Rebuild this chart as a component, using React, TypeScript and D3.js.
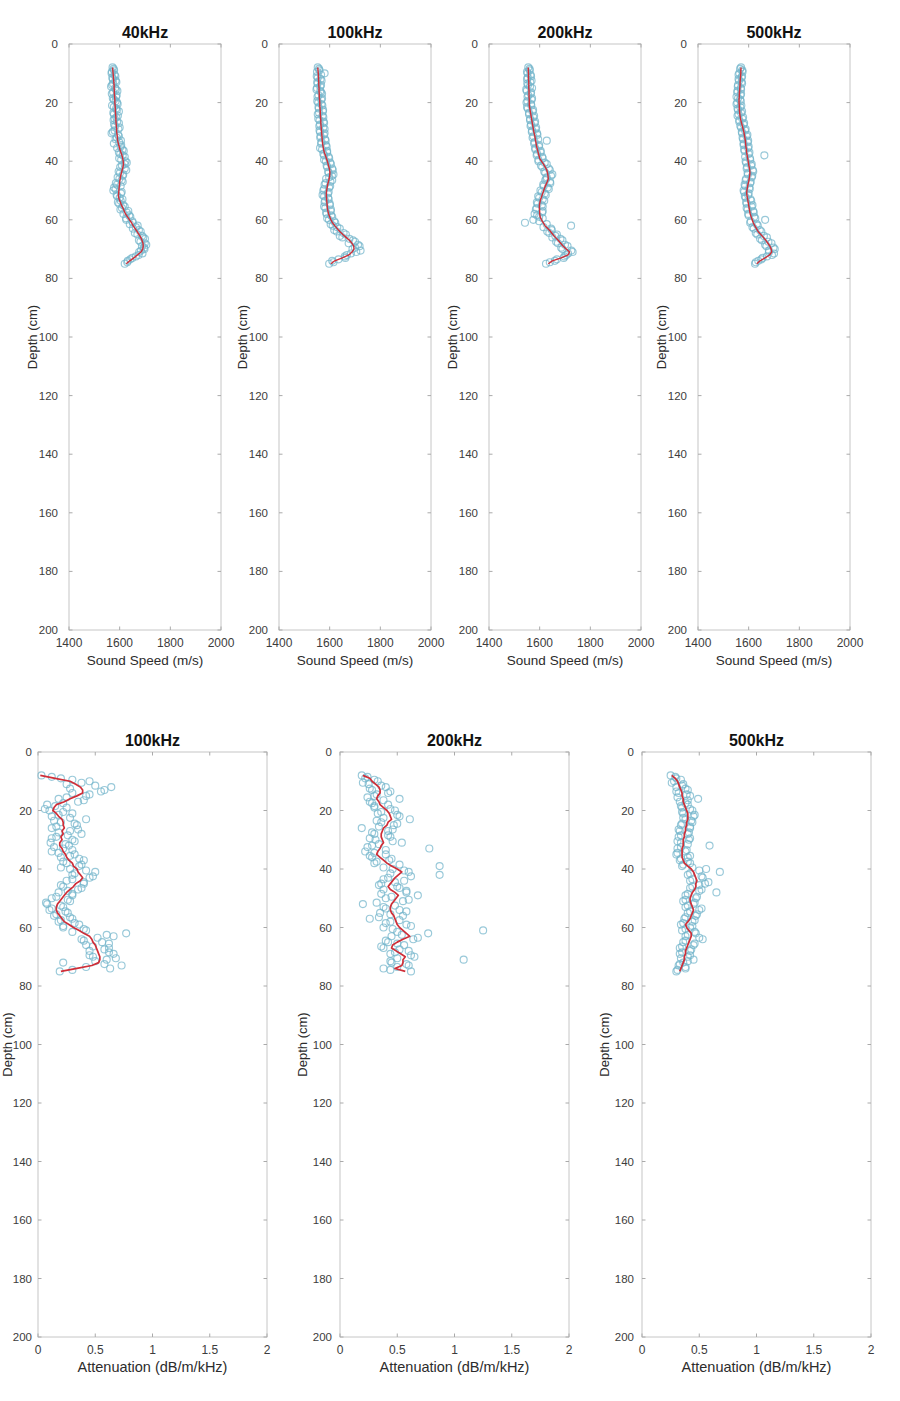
import React from 'react';
import * as d3 from 'd3';

// ---------- data ----------
const DEPTHS = [
  8, 9, 10, 11, 12, 13, 14, 15, 16, 17,
  18, 19, 20, 21, 22, 23, 24, 25, 26, 27,
  28, 29, 30, 31, 32, 33, 34, 35, 36, 37,
  38, 39, 40, 41, 42, 43, 44, 45, 46, 47,
  48, 49, 50, 51, 52, 53, 54, 55, 56, 57,
  58, 59, 60, 61, 62, 63, 64, 65, 66, 67,
  68, 69, 70, 71, 72, 73, 74, 75,
];
const DEPTHS_HALF = [
  8.5, 9.5, 10.5, 11.5, 12.5, 13.5, 14.5, 15.5, 16.5, 17.5,
  18.5, 19.5, 20.5, 21.5, 22.5, 23.5, 24.5, 25.5, 26.5, 27.5,
  28.5, 29.5, 30.5, 31.5, 32.5, 33.5, 34.5, 35.5, 36.5, 37.5,
  38.5, 39.5, 40.5, 41.5, 42.5, 43.5, 44.5, 45.5, 46.5, 47.5,
  48.5, 49.5, 50.5, 51.5, 52.5, 53.5, 54.5, 55.5, 56.5, 57.5,
  58.5, 59.5, 60.5, 61.5, 62.5, 63.5, 64.5, 65.5, 66.5, 67.5,
  68.5, 69.5, 70.5, 71.5, 72.5, 73.5, 74.5,
];

const DEPTH_TICKS = [0, 20, 40, 60, 80, 100, 120, 140, 160, 180, 200];
const SPEED_TICKS = [1400, 1600, 1800, 2000];
const ATTEN_TICKS = [0, 0.5, 1, 1.5, 2];
const TOP_TITLES = ['40kHz', '100kHz', '200kHz', '500kHz'];
const BOTTOM_TITLES = ['100kHz', '200kHz', '500kHz'];

// ----- sound speed (m/s) -----
const SPEED_40_PTS = [
  1572, 1578, 1568, 1583, 1573, 1587, 1570, 1582, 1591, 1569,
  1586, 1577, 1590, 1570, 1586, 1597, 1577, 1587, 1576, 1597,
  1582, 1595, 1573, 1594, 1589, 1605, 1577, 1604, 1611, 1597,
  1612, 1598, 1623, 1620, 1602, 1626, 1601, 1612, 1599, 1612,
  1590, 1578, 1575, 1605, 1590, 1611, 1593, 1614, 1609, 1634,
  1615, 1642, 1626, 1652, 1671, 1652, 1683, 1670, 1693, 1676,
  1699, 1688, 1698, 1677, 1675, 1650, 1632, 1620,
];
const SPEED_40_PTS_B = [
  1576, 1569, 1580, 1571, 1584, 1574, 1566, 1585, 1574, 1588,
  1573, 1584, 1592, 1577, 1589, 1575, 1593, 1580, 1590, 1578,
  1600, 1580, 1568, 1597, 1584, 1598, 1606, 1590, 1616, 1602,
  1620, 1606, 1628, 1609, 1620, 1596, 1614, 1592, 1608, 1585,
  1604, 1584, 1608, 1588, 1600, 1604, 1598, 1620, 1603, 1628,
  1638, 1625, 1650, 1640, 1664, 1676, 1660, 1688, 1700, 1682,
  1705, 1696, 1684, 1690, 1664, 1642, 1630,
];
const SPEED_40_FIT = [
  1572, 1573, 1574, 1575, 1576, 1577, 1578, 1578, 1579, 1579,
  1580, 1581, 1581, 1582, 1583, 1583, 1584, 1585, 1585, 1586,
  1587, 1588, 1588, 1590, 1591, 1592, 1595, 1598, 1601, 1605,
  1609, 1612, 1614, 1615, 1613, 1610, 1607, 1604, 1602, 1600,
  1599, 1598, 1597, 1596, 1595, 1598, 1603, 1607, 1613, 1618,
  1623, 1631, 1639, 1647, 1653, 1661, 1669, 1676, 1683, 1688,
  1692, 1693, 1691, 1684, 1670, 1656, 1640, 1626,
];

const SPEED_100_PTS = [
  1553, 1560, 1580, 1549, 1564, 1551, 1566, 1550, 1563, 1570,
  1552, 1567, 1555, 1571, 1557, 1573, 1553, 1575, 1560, 1578,
  1559, 1580, 1562, 1577, 1563, 1584, 1566, 1588, 1570, 1590,
  1578, 1598, 1585, 1605, 1590, 1612, 1596, 1609, 1586, 1603,
  1580, 1598, 1575, 1593, 1578, 1596, 1580, 1601, 1583, 1604,
  1588, 1610, 1597, 1622, 1612, 1640, 1628, 1664, 1650, 1692,
  1675, 1718, 1690, 1705, 1668, 1662, 1610, 1598,
];
const SPEED_100_PTS_B = [
  1558, 1550, 1566, 1553, 1568, 1552, 1563, 1548, 1566, 1556,
  1570, 1551, 1568, 1556, 1574, 1558, 1572, 1555, 1576, 1562,
  1575, 1560, 1580, 1564, 1582, 1568, 1585, 1562, 1590, 1575,
  1596, 1578, 1602, 1588, 1610, 1594, 1615, 1598, 1610, 1584,
  1602, 1578, 1596, 1572, 1594, 1582, 1600, 1578, 1605, 1586,
  1606, 1590, 1618, 1604, 1630, 1618, 1655, 1640, 1678, 1700,
  1712, 1700, 1722, 1684, 1660, 1635, 1615,
];
const SPEED_100_FIT = [
  1553, 1554, 1555, 1556, 1556, 1557, 1557, 1558, 1558, 1559,
  1559, 1560, 1561, 1561, 1562, 1563, 1563, 1564, 1565, 1565,
  1566, 1567, 1568, 1569, 1570, 1571, 1572, 1574, 1576, 1579,
  1583, 1587, 1591, 1594, 1597, 1600, 1601, 1600, 1598, 1595,
  1592, 1590, 1588, 1587, 1587, 1588, 1589, 1590, 1591, 1593,
  1596, 1600, 1605, 1611, 1620, 1630, 1640, 1652, 1665, 1678,
  1688, 1695, 1696, 1688, 1676, 1650, 1620, 1605,
];

const SPEED_200_PTS = [
  1555, 1561, 1552, 1566, 1550, 1563, 1554, 1570, 1549, 1565,
  1552, 1568, 1548, 1567, 1553, 1572, 1558, 1575, 1562, 1580,
  1564, 1584, 1569, 1591, 1572, 1628, 1578, 1597, 1583, 1604,
  1588, 1612, 1595, 1628, 1610, 1640, 1622, 1645, 1626, 1641,
  1614, 1632, 1603, 1620, 1594, 1612, 1589, 1608, 1588, 1612,
  1580, 1598, 1575, 1542, 1724, 1645, 1630, 1668, 1650, 1690,
  1672, 1710, 1690, 1730, 1705, 1695, 1660, 1625,
];
const SPEED_200_PTS_B = [
  1560, 1550, 1564, 1553, 1568, 1551, 1562, 1547, 1566, 1555,
  1570, 1552, 1566, 1550, 1574, 1558, 1578, 1562, 1582, 1566,
  1586, 1570, 1590, 1575, 1594, 1580, 1598, 1582, 1604, 1590,
  1610, 1595, 1620, 1605, 1636, 1618, 1650, 1628, 1622, 1642,
  1616, 1636, 1608, 1624, 1598, 1618, 1592, 1612, 1585, 1610,
  1590, 1612, 1598, 1628, 1615, 1648, 1638, 1662, 1682, 1665,
  1700, 1685, 1725, 1712, 1698, 1668, 1640,
];
const SPEED_200_FIT = [
  1555, 1555, 1556, 1556, 1556, 1557, 1557, 1557, 1558, 1558,
  1558, 1559, 1559, 1559, 1561, 1563, 1565, 1567, 1569, 1571,
  1573, 1575, 1577, 1580, 1582, 1584, 1586, 1588, 1591, 1594,
  1597, 1600, 1607, 1615, 1622, 1628, 1631, 1633, 1634, 1630,
  1625, 1620, 1616, 1612, 1608, 1604, 1601, 1599, 1599, 1600,
  1600, 1602, 1607, 1614, 1621, 1632, 1643, 1652, 1662, 1673,
  1683, 1693, 1705, 1718, 1712, 1685, 1650, 1634,
];

const SPEED_500_PTS = [
  1570, 1575, 1563, 1574, 1560, 1572, 1558, 1569, 1556, 1570,
  1552, 1566, 1555, 1571, 1556, 1574, 1560, 1578, 1563, 1582,
  1567, 1588, 1573, 1595, 1576, 1598, 1580, 1600, 1582, 1603,
  1662, 1605, 1588, 1612, 1594, 1616, 1596, 1614, 1590, 1608,
  1584, 1603, 1580, 1600, 1585, 1607, 1590, 1615, 1592, 1618,
  1598, 1622, 1665, 1606, 1636, 1620, 1650, 1634, 1672, 1652,
  1690, 1670, 1703, 1680, 1692, 1655, 1638, 1625,
];
const SPEED_500_PTS_B = [
  1566, 1576, 1560, 1572, 1562, 1574, 1557, 1570, 1555, 1568,
  1558, 1569, 1552, 1567, 1558, 1570, 1556, 1575, 1563, 1580,
  1570, 1586, 1574, 1592, 1578, 1596, 1580, 1598, 1584, 1600,
  1586, 1606, 1590, 1610, 1592, 1618, 1597, 1612, 1588, 1606,
  1586, 1604, 1582, 1598, 1588, 1610, 1592, 1612, 1596, 1620,
  1600, 1626, 1608, 1632, 1615, 1644, 1628, 1660, 1645, 1678,
  1665, 1698, 1680, 1700, 1672, 1650, 1628,
];
const SPEED_500_FIT = [
  1570, 1569, 1569, 1568, 1567, 1566, 1566, 1565, 1564, 1563,
  1563, 1562, 1562, 1563, 1563, 1564, 1565, 1567, 1569, 1572,
  1575, 1578, 1581, 1583, 1585, 1587, 1588, 1589, 1591, 1592,
  1594, 1596, 1598, 1600, 1602, 1604, 1605, 1604, 1602, 1600,
  1597, 1595, 1593, 1592, 1594, 1596, 1598, 1600, 1602, 1604,
  1606, 1610, 1614, 1618, 1624, 1631, 1637, 1648, 1658, 1668,
  1676, 1684, 1689, 1691, 1682, 1665, 1645, 1632,
];

// ----- attenuation (dB/m/kHz) -----
const ATTEN_100_PTS = [
  0.03, 0.2, 0.45, 0.25, 0.64, 0.58, 0.3, 0.42, 0.18, 0.35,
  0.08, 0.25, 0.1, 0.3, 0.12, 0.42, 0.2, 0.34, 0.12, 0.28,
  0.38, 0.16, 0.3, 0.11, 0.27, 0.22, 0.12, 0.32, 0.2, 0.4,
  0.25, 0.36, 0.28, 0.5, 0.3, 0.45, 0.25, 0.4, 0.22, 0.35,
  0.18, 0.3, 0.12, 0.28, 0.08, 0.22, 0.1, 0.26, 0.14, 0.3,
  0.18, 0.36, 0.22, 0.42, 0.77, 0.66, 0.38, 0.56, 0.42, 0.62,
  0.45, 0.66, 0.48, 0.6, 0.22, 0.73, 0.63, 0.19,
];
const ATTEN_100_PTS_B = [
  0.12, 0.3, 0.38, 0.5, 0.28, 0.55, 0.45, 0.25, 0.4, 0.22,
  0.15, 0.06, 0.22, 0.18, 0.28, 0.14, 0.32, 0.16, 0.35, 0.18,
  0.26, 0.12, 0.32, 0.24, 0.14, 0.3, 0.18, 0.28, 0.36, 0.22,
  0.38, 0.2, 0.42, 0.32, 0.48, 0.3, 0.4, 0.2, 0.38, 0.26,
  0.3, 0.16, 0.26, 0.07, 0.2, 0.12, 0.24, 0.16, 0.28, 0.2,
  0.32, 0.22, 0.4, 0.3, 0.6, 0.52, 0.4, 0.62, 0.48, 0.58,
  0.62, 0.45, 0.68, 0.5, 0.58, 0.42, 0.3,
];
const ATTEN_100_FIT = [
  0.02, 0.15, 0.28, 0.33, 0.37, 0.39, 0.39, 0.34, 0.28, 0.23,
  0.16, 0.14, 0.13, 0.16, 0.18, 0.21, 0.22, 0.22, 0.23, 0.21,
  0.22, 0.2, 0.21, 0.19, 0.19, 0.21, 0.22, 0.24, 0.25, 0.27,
  0.3, 0.31, 0.34, 0.35, 0.37, 0.39, 0.37, 0.33, 0.31, 0.28,
  0.25, 0.23, 0.21, 0.19, 0.17, 0.16, 0.16, 0.17, 0.19, 0.21,
  0.23, 0.27, 0.31, 0.36, 0.4, 0.45, 0.47, 0.48, 0.5, 0.51,
  0.52, 0.53, 0.54, 0.54, 0.53, 0.47, 0.34, 0.2,
];

const ATTEN_200_PTS = [
  0.19, 0.22, 0.33, 0.25, 0.4, 0.28, 0.42, 0.3, 0.52, 0.26,
  0.42, 0.3, 0.48, 0.33, 0.52, 0.61, 0.36, 0.47, 0.19, 0.42,
  0.3, 0.44, 0.31, 0.54, 0.28, 0.78, 0.22, 0.4, 0.28, 0.43,
  0.3, 0.87, 0.46, 0.6, 0.87, 0.42, 0.56, 0.36, 0.5, 0.38,
  0.58, 0.68, 0.4, 0.55, 0.2, 0.38, 0.52, 0.35, 0.55, 0.26,
  0.44, 0.58, 0.38, 1.25, 0.77, 0.45, 0.64, 0.42, 0.56, 0.38,
  0.6, 0.44, 0.65, 1.08, 0.45, 0.6, 0.38, 0.62,
];
const ATTEN_200_PTS_B = [
  0.24, 0.3, 0.2, 0.36, 0.26, 0.44, 0.32, 0.24, 0.38, 0.28,
  0.3, 0.44, 0.36, 0.5, 0.38, 0.32, 0.5, 0.34, 0.46, 0.28,
  0.42, 0.26, 0.46, 0.34, 0.24, 0.4, 0.3, 0.26, 0.45, 0.32,
  0.52, 0.38, 0.56, 0.44, 0.62, 0.38, 0.48, 0.34, 0.52, 0.58,
  0.36, 0.45, 0.6, 0.32, 0.48, 0.4, 0.58, 0.44, 0.34, 0.52,
  0.4, 0.62, 0.46, 0.5, 0.54, 0.68, 0.4, 0.5, 0.36, 0.52,
  0.48, 0.62, 0.5, 0.44, 0.58, 0.5, 0.44,
];
const ATTEN_200_FIT = [
  0.2, 0.26, 0.28, 0.31, 0.34, 0.35, 0.35, 0.33, 0.32, 0.34,
  0.35, 0.38, 0.41, 0.43, 0.44, 0.45, 0.42, 0.41, 0.38, 0.37,
  0.36, 0.36, 0.37, 0.38, 0.36, 0.35, 0.33, 0.32, 0.35, 0.38,
  0.41, 0.45, 0.5, 0.54, 0.51, 0.48, 0.46, 0.44, 0.42, 0.44,
  0.48, 0.51, 0.49, 0.47, 0.45, 0.44, 0.44, 0.45, 0.47, 0.48,
  0.49, 0.5, 0.52, 0.55, 0.58, 0.61, 0.55, 0.5, 0.46, 0.45,
  0.49, 0.53, 0.57, 0.55, 0.55, 0.54, 0.48, 0.57,
];

const ATTEN_500_PTS = [
  0.25, 0.3, 0.28, 0.36, 0.3, 0.4, 0.32, 0.42, 0.49, 0.33,
  0.4, 0.35, 0.44, 0.36, 0.45, 0.38, 0.44, 0.34, 0.42, 0.33,
  0.4, 0.32, 0.41, 0.34, 0.59, 0.31, 0.38, 0.3, 0.4, 0.33,
  0.42, 0.35, 0.56, 0.68, 0.4, 0.53, 0.42, 0.55, 0.44, 0.52,
  0.65, 0.38, 0.47, 0.36, 0.45, 0.38, 0.5, 0.4, 0.47, 0.37,
  0.44, 0.34, 0.42, 0.35, 0.47, 0.38, 0.53, 0.36, 0.45, 0.33,
  0.42, 0.33, 0.4, 0.45, 0.36, 0.32, 0.38, 0.3,
];
const ATTEN_500_PTS_B = [
  0.29, 0.34, 0.26, 0.35, 0.38, 0.3, 0.39, 0.31, 0.4, 0.38,
  0.34, 0.42, 0.35, 0.46, 0.36, 0.43, 0.35, 0.42, 0.32, 0.41,
  0.34, 0.42, 0.31, 0.4, 0.34, 0.39, 0.31, 0.42, 0.34, 0.4,
  0.36, 0.44, 0.5, 0.42, 0.52, 0.44, 0.58, 0.5, 0.42, 0.5,
  0.4, 0.48, 0.38, 0.46, 0.4, 0.52, 0.42, 0.48, 0.38, 0.46,
  0.36, 0.44, 0.38, 0.46, 0.4, 0.5, 0.38, 0.46, 0.35, 0.43,
  0.35, 0.42, 0.34, 0.4, 0.33, 0.38, 0.31,
];
const ATTEN_500_FIT = [
  0.26, 0.29, 0.31, 0.32, 0.33, 0.34, 0.35, 0.35, 0.36, 0.36,
  0.37, 0.38, 0.39, 0.4, 0.4, 0.4, 0.39, 0.39, 0.38, 0.38,
  0.37, 0.37, 0.36, 0.36, 0.36, 0.35, 0.35, 0.35, 0.35, 0.36,
  0.37, 0.4, 0.43, 0.45, 0.46, 0.47, 0.48, 0.47, 0.47, 0.46,
  0.44, 0.43, 0.42, 0.42, 0.43, 0.44, 0.45, 0.44, 0.43, 0.42,
  0.4, 0.38, 0.39, 0.41, 0.43, 0.43, 0.42, 0.41, 0.4, 0.39,
  0.38, 0.38, 0.37, 0.37, 0.36, 0.35, 0.34, 0.33,
];

const TOP_PTS = [SPEED_40_PTS, SPEED_100_PTS, SPEED_200_PTS, SPEED_500_PTS];
const TOP_PTS_B = [SPEED_40_PTS_B, SPEED_100_PTS_B, SPEED_200_PTS_B, SPEED_500_PTS_B];
const TOP_FIT = [SPEED_40_FIT, SPEED_100_FIT, SPEED_200_FIT, SPEED_500_FIT];
const BOTTOM_PTS = [ATTEN_100_PTS, ATTEN_200_PTS, ATTEN_500_PTS];
const BOTTOM_PTS_B = [ATTEN_100_PTS_B, ATTEN_200_PTS_B, ATTEN_500_PTS_B];
const BOTTOM_FIT = [ATTEN_100_FIT, ATTEN_200_FIT, ATTEN_500_FIT];

// ---------- layout ----------
const TOP_LEFTS = [69, 279, 489, 698];
const TOP_W = 152;
const TOP_Y0 = 44;
const TOP_H = 586;
const BOT_LEFTS = [38, 340, 642];
const BOT_W = 229;
const BOT_Y0 = 752;
const BOT_H = 585;
const TOP_YLABEL_OFFSETS = [32, 32, 32, 32];
const BOT_YLABEL_OFFSETS = [26, 33, 33];
const BOT_YTICK_GAPS = [6, 8, 8];

const FONT = '"Liberation Sans", Arial, Helvetica, sans-serif';
const CIRCLE_COLOR = '#72b4ca';
const LINE_COLOR = '#cf2e38';

type PanelProps = {
  left: number;
  top: number;
  width: number;
  height: number;
  xDomain: [number, number];
  xTicks: number[];
  title: string;
  xLabel: string;
  pts: number[];
  ptsB: number[];
  fit: number[];
  yLabelOffset: number;
  yTickGap: number;
  lineWidth: number;
  labelSize: number;
};

function Panel({
  left, top, width, height, xDomain, xTicks, title, xLabel, pts, ptsB, fit, yLabelOffset, yTickGap, lineWidth, labelSize,
}: PanelProps) {
  const x = d3.scaleLinear().domain(xDomain).range([left, left + width]);
  const y = d3.scaleLinear().domain([0, 200]).range([top, top + height]);
  const line = d3
    .line<number>()
    .x((v) => x(v))
    .y((_, i) => y(DEPTHS[i]));
  const tl = 3.5;
  const bottom = top + height;
  const right = left + width;
  const circ = (v: number, d: number, key: string) => (
    <circle
      key={key}
      cx={x(v)}
      cy={y(d)}
      r={3.5}
      fill="none"
      stroke={CIRCLE_COLOR}
      strokeOpacity={0.72}
      strokeWidth={1.15}
    />
  );
  return (
    <g>
      <rect x={left} y={top} width={width} height={height} fill="#fff" stroke="#c6c6c6" strokeWidth={1} />
      {DEPTH_TICKS.map((t) => (
        <g key={'yt' + t}>
          <line x1={left} x2={left + tl} y1={y(t)} y2={y(t)} stroke="#aaaaaa" />
          <line x1={right - tl} x2={right} y1={y(t)} y2={y(t)} stroke="#aaaaaa" />
          <text x={left - yTickGap} y={y(t)} dy="0.35em" textAnchor="end" fontSize={11.5} fill="#3c3c3c" fontFamily={FONT}>
            {t}
          </text>
        </g>
      ))}
      {xTicks.map((t) => (
        <g key={'xt' + t}>
          <line x1={x(t)} x2={x(t)} y1={top} y2={top + tl} stroke="#aaaaaa" />
          <line x1={x(t)} x2={x(t)} y1={bottom - tl} y2={bottom} stroke="#aaaaaa" />
          <text x={x(t)} y={bottom + 17} textAnchor="middle" fontSize={12} fill="#3c3c3c" fontFamily={FONT}>
            {String(t)}
          </text>
        </g>
      ))}
      {pts.map((v, i) => circ(v, DEPTHS[i], 'a' + i))}
      {ptsB.map((v, i) => circ(v, DEPTHS_HALF[i], 'b' + i))}
      <path d={line(fit) || ''} fill="none" stroke={LINE_COLOR} strokeWidth={lineWidth} strokeLinejoin="round" />
      <text
        x={left + width / 2}
        y={top - 6}
        textAnchor="middle"
        fontSize={16}
        fontWeight="bold"
        fill="#111"
        fontFamily={FONT}
      >
        {title}
      </text>
      <text
        x={left + width / 2}
        y={bottom + 35}
        textAnchor="middle"
        fontSize={labelSize}
        fill="#2c2c2c"
        fontFamily={FONT}
      >
        {xLabel}
      </text>
      <text
        transform={`translate(${left - yLabelOffset},${top + height / 2}) rotate(-90)`}
        textAnchor="middle"
        fontSize={13}
        fill="#2c2c2c"
        fontFamily={FONT}
      >
        Depth (cm)
      </text>
    </g>
  );
}

export default function App() {
  return (
    <svg
      width={900}
      height={1401}
      viewBox="0 0 900 1401"
      style={{ position: 'absolute', left: 0, top: 0, display: 'block', background: '#fff' }}
    >
      <rect x={0} y={0} width={900} height={1401} fill="#fff" />
      {TOP_TITLES.map((t, i) => (
        <Panel
          key={'top' + i}
          left={TOP_LEFTS[i]}
          top={TOP_Y0}
          width={TOP_W}
          height={TOP_H}
          xDomain={[1400, 2000]}
          xTicks={SPEED_TICKS}
          title={t}
          xLabel="Sound Speed (m/s)"
          pts={TOP_PTS[i]}
          ptsB={TOP_PTS_B[i]}
          fit={TOP_FIT[i]}
          yLabelOffset={TOP_YLABEL_OFFSETS[i]}
          yTickGap={11}
          lineWidth={1.4}
          labelSize={13.5}
        />
      ))}
      {BOTTOM_TITLES.map((t, i) => (
        <Panel
          key={'bot' + i}
          left={BOT_LEFTS[i]}
          top={BOT_Y0}
          width={BOT_W}
          height={BOT_H}
          xDomain={[0, 2]}
          xTicks={ATTEN_TICKS}
          title={t}
          xLabel="Attenuation (dB/m/kHz)"
          pts={BOTTOM_PTS[i]}
          ptsB={BOTTOM_PTS_B[i]}
          fit={BOTTOM_FIT[i]}
          yLabelOffset={BOT_YLABEL_OFFSETS[i]}
          yTickGap={BOT_YTICK_GAPS[i]}
          lineWidth={1.7}
          labelSize={14.5}
        />
      ))}
    </svg>
  );
}
